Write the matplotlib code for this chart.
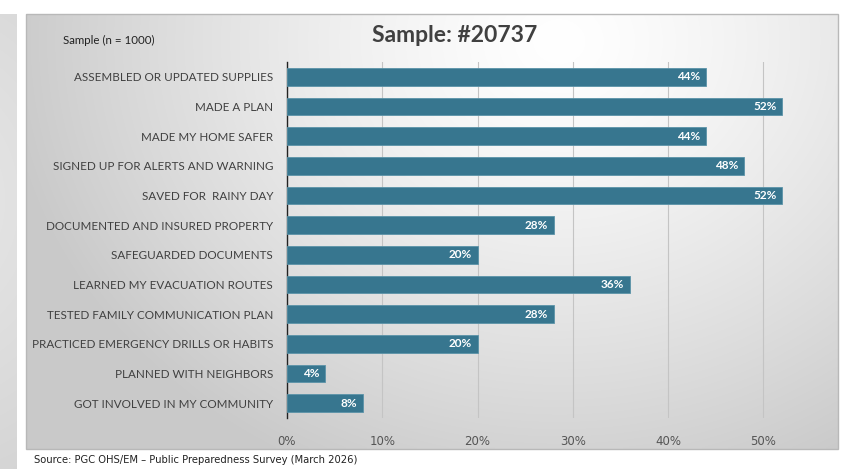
import numpy as np
import matplotlib
matplotlib.use("Agg")
import matplotlib.pyplot as plt
from matplotlib.patches import Rectangle

categories = [
    "ASSEMBLED OR UPDATED SUPPLIES",
    "MADE A PLAN",
    "MADE MY HOME SAFER",
    "SIGNED UP FOR ALERTS AND WARNING",
    "SAVED FOR  RAINY DAY",
    "DOCUMENTED AND INSURED PROPERTY",
    "SAFEGUARDED DOCUMENTS",
    "LEARNED MY EVACUATION ROUTES",
    "TESTED FAMILY COMMUNICATION PLAN",
    "PRACTICED EMERGENCY DRILLS OR HABITS",
    "PLANNED WITH NEIGHBORS",
    "GOT INVOLVED IN MY COMMUNITY",
]
values = [0.44, 0.52, 0.44, 0.48, 0.52, 0.28, 0.20, 0.36, 0.28, 0.20, 0.04, 0.08]
xticks = [0.0, 0.1, 0.2, 0.3, 0.4, 0.5]
xticklabels = ["0%", "10%", "20%", "30%", "40%", "50%"]
title = "Sample: #20737"
subtitle = "Sample (n = 1000)"
source = "Source: PGC OHS/EM \u2013 Public Preparedness Survey (March 2026)"

W, H = 849, 469
fig = plt.figure(figsize=(W / 100, H / 100), dpi=100)
fig.patch.set_facecolor("white")

def px(x0, y0, x1, y1):
    return [x0 / W, 1 - y1 / H, (x1 - x0) / W, (y1 - y0) / H]

# background panels
bg = fig.add_axes([0, 0, 1, 1], zorder=0)
bg.axis("off")

def gradient(x0, y0, x1, y1, cx, cy, lo, hi, rx, ry):
    nx, ny = 200, 120
    xs = np.linspace(x0, x1, nx)
    ys = np.linspace(y0, y1, ny)
    X, Y = np.meshgrid(xs, ys)
    d = np.sqrt(((X - cx) / rx) ** 2 + ((Y - cy) / ry) ** 2)
    d = np.clip(d, 0, 1)
    v = hi + (lo - hi) * d ** 1.3
    img = np.dstack([v, v, v])
    bg.imshow(img, extent=(x0, x1, y1, y0), aspect="auto", interpolation="bilinear", zorder=0)

gradient(0, 14, 17, 469, -60, 200, 0.80, 0.90, 300, 400)
gradient(26, 14, 838, 449, 560, 40, 0.79, 1.0, 560, 480)
bg.add_patch(Rectangle((26, 14), 812, 435, fill=False, ec="#b8b8b8", lw=1.0, zorder=1))
bg.set_xlim(0, W)
bg.set_ylim(H, 0)

ax = fig.add_axes(px(287, 62, 811, 418), zorder=2)
ax.patch.set_alpha(0)
y = np.arange(len(categories))
ax.barh(y, values, height=0.6, color="#37768f", edgecolor="#5b93a8", linewidth=0.6, zorder=3)
ax.set_ylim(len(categories) - 0.5, -0.5)
ax.set_xlim(0, 0.55)
ax.set_xticks(xticks)
ax.set_xticklabels(xticklabels)
ax.set_yticks(y)
ax.set_yticklabels(categories)
ax.grid(axis="x", color="#c4c4c4", lw=0.8, zorder=1)
for s in ["top", "right", "bottom"]:
    ax.spines[s].set_visible(False)
ax.spines["left"].set_color("#222222")
ax.spines["left"].set_linewidth(1.0)
ax.tick_params(axis="y", length=0, pad=10, labelsize=8.4, labelcolor="#404040")
ax.tick_params(axis="x", length=0, pad=12, labelsize=8.5, labelcolor="#555555")
for lab in ax.get_yticklabels():
    lab.set_fontfamily("Lato")
for lab in ax.get_xticklabels():
    lab.set_fontfamily("Liberation Sans Narrow")

for yi, v in zip(y, values):
    ax.text(v - 0.006, yi, f"{round(v * 100)}%", ha="right", va="center", color="white",
            fontsize=8.5, fontweight="bold", family="Lato", zorder=4)

fig.text(455 / W, 1 - 35 / H, title, ha="center", va="center", fontsize=16.5,
         fontweight="bold", color="#404040", family="Lato")
fig.text(63 / W, 1 - 40 / H, subtitle, ha="left", va="center", fontsize=8.3,
         color="#222222", family="Lato")
fig.text(34 / W, 1 - 460 / H, source, ha="left", va="center", fontsize=7.2,
         color="#222222", family="Liberation Sans Narrow")

fig.savefig("out.png", dpi=100)
